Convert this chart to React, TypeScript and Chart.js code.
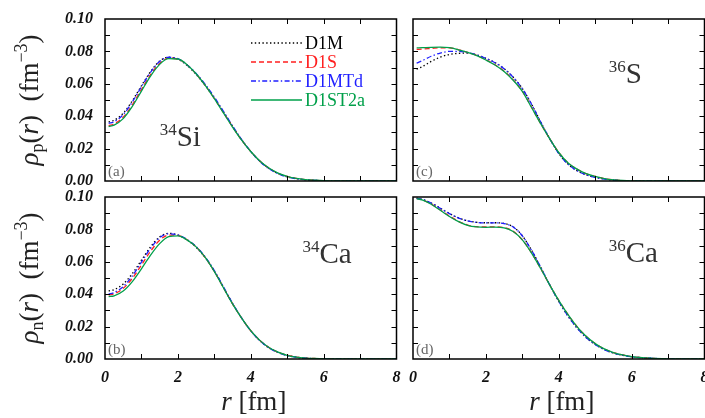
import { useEffect, useRef } from "react";
import { Chart, registerables } from "chart.js";

Chart.register(...registerables);

// Radial grid (fm) shared by every density curve
const R = [
  0.1, 0.25, 0.5, 0.75, 1, 1.25, 1.5, 1.75, 2, 2.25, 2.5, 2.75, 3, 3.25, 3.5,
  3.75, 4, 4.25, 4.5, 4.75, 5, 5.25, 5.5, 5.75, 6, 6.5, 7, 7.5, 8,
];

const SERIES_NAMES = ["D1M", "D1S", "D1MTd", "D1ST2a"];

const X_TICKS = [0, 2, 4, 6, 8];
const Y_TICKS = [0, 0.02, 0.04, 0.06, 0.08, 0.1];

// (a) 34Si proton density
const SI34_D1M = [0.0365, 0.0375, 0.0418, 0.0495, 0.0588, 0.0675, 0.074, 0.0764, 0.0752, 0.0714, 0.0658, 0.059, 0.0512, 0.0426, 0.0338, 0.0255, 0.0182, 0.0122, 0.0077, 0.0046, 0.0026, 0.0015, 0.0008, 0.0004, 0.0002, 0.00005, 0, 0, 0];
const SI34_D1S = [0.0342, 0.0352, 0.0394, 0.047, 0.0565, 0.0656, 0.0726, 0.0758, 0.0753, 0.0717, 0.0661, 0.0591, 0.051, 0.0422, 0.0335, 0.0253, 0.0182, 0.0123, 0.0079, 0.0048, 0.0028, 0.0016, 0.0009, 0.0005, 0.0002, 0.00005, 0, 0, 0];
const SI34_D1MTD = [0.0355, 0.0366, 0.041, 0.0488, 0.0582, 0.0671, 0.0738, 0.0764, 0.0755, 0.0718, 0.0664, 0.0597, 0.0518, 0.043, 0.034, 0.0256, 0.0182, 0.0121, 0.0076, 0.0045, 0.0025, 0.0014, 0.0008, 0.0004, 0.0002, 0.00005, 0, 0, 0];
const SI34_D1ST2A = [0.0336, 0.0345, 0.0385, 0.046, 0.0555, 0.0648, 0.072, 0.0755, 0.0753, 0.0718, 0.0662, 0.059, 0.0508, 0.042, 0.0333, 0.0252, 0.0182, 0.0124, 0.008, 0.0049, 0.0029, 0.0016, 0.0009, 0.0005, 0.0002, 0.00005, 0, 0, 0];

// (c) 36S proton density
const S36_D1M = [0.069, 0.0705, 0.0738, 0.0765, 0.0781, 0.0788, 0.0789, 0.0778, 0.0757, 0.0731, 0.0694, 0.0641, 0.0571, 0.0476, 0.0366, 0.0262, 0.017, 0.0105, 0.0064, 0.0038, 0.0022, 0.0012, 0.0006, 0.0002, 0.0001, 0, 0, 0, 0];
const S36_D1S = [0.0812, 0.0814, 0.0818, 0.0822, 0.0822, 0.081, 0.0794, 0.0775, 0.0749, 0.0718, 0.0678, 0.0624, 0.0555, 0.0457, 0.0356, 0.0262, 0.0176, 0.0113, 0.0073, 0.0045, 0.0028, 0.0015, 0.0007, 0.0003, 0.0001, 0, 0, 0, 0];
const S36_D1MTD = [0.0728, 0.0742, 0.077, 0.079, 0.08, 0.08, 0.0793, 0.0778, 0.0757, 0.073, 0.0693, 0.064, 0.057, 0.0475, 0.0365, 0.0262, 0.017, 0.0105, 0.0064, 0.0038, 0.0022, 0.0012, 0.0006, 0.0002, 0.0001, 0, 0, 0, 0];
const S36_D1ST2A = [0.0822, 0.0823, 0.0825, 0.0826, 0.0823, 0.081, 0.0794, 0.0774, 0.0747, 0.0716, 0.0676, 0.0622, 0.0553, 0.0455, 0.0355, 0.0262, 0.0176, 0.0113, 0.0073, 0.0045, 0.0028, 0.0015, 0.0007, 0.0003, 0.0001, 0, 0, 0, 0];

// (b) 34Ca neutron density
const CA34_D1M = [0.042, 0.0428, 0.0463, 0.0527, 0.061, 0.0692, 0.0754, 0.0776, 0.0765, 0.0736, 0.069, 0.0625, 0.0542, 0.0443, 0.0342, 0.0252, 0.0174, 0.0113, 0.0069, 0.004, 0.0022, 0.0011, 0.0005, 0.0002, 0.0001, 0, 0, 0, 0];
const CA34_D1S = [0.0395, 0.0402, 0.0436, 0.0498, 0.058, 0.0665, 0.0733, 0.0765, 0.0763, 0.0736, 0.0692, 0.0627, 0.0541, 0.0441, 0.034, 0.0252, 0.0175, 0.0115, 0.0071, 0.0042, 0.0023, 0.0012, 0.0006, 0.0003, 0.0001, 0, 0, 0, 0];
const CA34_D1MTD = [0.04, 0.041, 0.0447, 0.0513, 0.0598, 0.0683, 0.0748, 0.0773, 0.0766, 0.0738, 0.0694, 0.063, 0.0546, 0.0446, 0.0344, 0.0253, 0.0174, 0.0113, 0.0069, 0.004, 0.0022, 0.0011, 0.0005, 0.0002, 0.0001, 0, 0, 0, 0];
const CA34_D1ST2A = [0.0385, 0.039, 0.042, 0.0478, 0.0557, 0.0641, 0.0712, 0.0755, 0.076, 0.0735, 0.0692, 0.0627, 0.054, 0.044, 0.034, 0.0252, 0.0175, 0.0115, 0.0071, 0.0042, 0.0023, 0.0012, 0.0006, 0.0003, 0.0001, 0, 0, 0, 0];

// (d) 36Ca neutron density
const CA36_D1M = [0.0993, 0.0986, 0.0963, 0.0931, 0.0898, 0.0871, 0.0853, 0.0844, 0.0841, 0.0841, 0.0837, 0.0816, 0.0761, 0.0673, 0.0568, 0.0458, 0.0356, 0.0266, 0.0192, 0.0133, 0.009, 0.0058, 0.0037, 0.0023, 0.0014, 0.0005, 0.0001, 0, 0];
const CA36_D1S = [0.0991, 0.0983, 0.0957, 0.092, 0.0882, 0.085, 0.0827, 0.0817, 0.0815, 0.0816, 0.0811, 0.0788, 0.0736, 0.0656, 0.056, 0.0458, 0.0362, 0.0275, 0.02, 0.014, 0.0095, 0.0062, 0.004, 0.0025, 0.0015, 0.0005, 0.0001, 0, 0];
const CA36_D1MTD = [0.0992, 0.0985, 0.0962, 0.093, 0.0897, 0.087, 0.0852, 0.0843, 0.084, 0.084, 0.0836, 0.0815, 0.076, 0.0672, 0.0568, 0.0458, 0.0356, 0.0266, 0.0192, 0.0133, 0.009, 0.0058, 0.0037, 0.0023, 0.0014, 0.0005, 0.0001, 0, 0];
const CA36_D1ST2A = [0.099, 0.0982, 0.0955, 0.0918, 0.088, 0.0848, 0.0825, 0.0815, 0.0813, 0.0814, 0.081, 0.0787, 0.0735, 0.0655, 0.056, 0.0458, 0.0362, 0.0275, 0.02, 0.014, 0.0095, 0.0062, 0.004, 0.0025, 0.0015, 0.0005, 0.0001, 0, 0];

const SERIF = "'Liberation Serif', 'DejaVu Serif', serif";

const LINE_STYLES = [
  { color: "#000000", dash: [1.4, 2.4], order: 3 },
  { color: "#ff1f1f", dash: [5, 3], order: 2 },
  { color: "#1f1fff", dash: [5, 2.4, 1.4, 2.4], order: 1 },
  { color: "#00a04a", dash: [] as number[], order: 0 },
];

type Run = { t: string; size: number; italic?: boolean; dy?: number };

type Box = { x: number; y: number; w: number; h: number };
type Area = { left: number; top: number; right: number; bottom: number };

type Panel = {
  key: string;
  tag: string;
  canvas: Box;
  area: Area;
  series: number[][];
  nucleus: { mass: string; sym: string; r: number; rho: number };
  yLabels: boolean;
  xLabels: boolean;
  yTitle?: Run[];
  legend?: boolean;
};

const Y_TITLE_P: Run[] = [
  { t: "ρ", size: 27, italic: true },
  { t: "p", size: 18, dy: 5 },
  { t: "(", size: 27 },
  { t: "r", size: 27, italic: true },
  { t: ")  (fm", size: 27 },
  { t: "−3", size: 18, dy: -11 },
  { t: ")", size: 27 },
];

const Y_TITLE_N: Run[] = [
  { t: "ρ", size: 27, italic: true },
  { t: "n", size: 18, dy: 5 },
  { t: "(", size: 27 },
  { t: "r", size: 27, italic: true },
  { t: ")  (fm", size: 27 },
  { t: "−3", size: 18, dy: -11 },
  { t: ")", size: 27 },
];

const X_TITLE: Run[] = [
  { t: "r", size: 27, italic: true },
  { t: " [fm]", size: 27 },
];

const PANELS: Panel[] = [
  {
    key: "a",
    tag: "(a)",
    canvas: { x: 0, y: 0, w: 405, h: 190 },
    area: { left: 105, top: 19, right: 396.5, bottom: 181 },
    series: [SI34_D1M, SI34_D1S, SI34_D1MTD, SI34_D1ST2A],
    nucleus: { mass: "34", sym: "Si", r: 1.5, rho: 0.0216 },
    yLabels: true,
    xLabels: false,
    yTitle: Y_TITLE_P,
    legend: true,
  },
  {
    key: "c",
    tag: "(c)",
    canvas: { x: 400, y: 0, w: 305, h: 190 },
    area: { left: 413, top: 19, right: 704.5, bottom: 181 },
    series: [S36_D1M, S36_D1S, S36_D1MTD, S36_D1ST2A],
    nucleus: { mass: "36", sym: "S", r: 5.37, rho: 0.0605 },
    yLabels: false,
    xLabels: false,
  },
  {
    key: "b",
    tag: "(b)",
    canvas: { x: 0, y: 190, w: 405, h: 228 },
    area: { left: 105, top: 197, right: 396.5, bottom: 359 },
    series: [CA34_D1M, CA34_D1S, CA34_D1MTD, CA34_D1ST2A],
    nucleus: { mass: "34", sym: "Ca", r: 5.42, rho: 0.0593 },
    yLabels: true,
    xLabels: true,
    yTitle: Y_TITLE_N,
  },
  {
    key: "d",
    tag: "(d)",
    canvas: { x: 400, y: 190, w: 305, h: 228 },
    area: { left: 413, top: 197, right: 704.5, bottom: 359 },
    series: [CA36_D1M, CA36_D1S, CA36_D1MTD, CA36_D1ST2A],
    nucleus: { mass: "36", sym: "Ca", r: 5.37, rho: 0.0599 },
    yLabels: false,
    xLabels: true,
  },
];

function runFont(r: Run) {
  return `${r.italic ? "italic " : ""}${r.size}px ${SERIF}`;
}

function drawRuns(
  ctx: CanvasRenderingContext2D,
  runs: Run[],
  x: number,
  y: number,
  align: "left" | "center"
) {
  const widths = runs.map((r) => {
    ctx.font = runFont(r);
    return ctx.measureText(r.t).width;
  });
  const total = widths.reduce((s, w) => s + w, 0);
  let cx = align === "center" ? x - total / 2 : x;
  ctx.textAlign = "left";
  ctx.textBaseline = "alphabetic";
  runs.forEach((r, i) => {
    ctx.font = runFont(r);
    ctx.fillText(r.t, cx, y + (r.dy || 0));
    cx += widths[i];
  });
}

const TICK_LEN = 5;

function makeDecor(panel: Panel) {
  return {
    id: "panelDecor",
    afterDatasetsDraw(chart: any) {
      const { ctx, chartArea: a, scales } = chart;
      const xs = scales.x;
      const ys = scales.y;
      ctx.save();

      // inward ticks on all four sides
      ctx.strokeStyle = "#000";
      ctx.lineWidth = 1;
      ctx.beginPath();
      for (let v = 1; v < 8; v += 1) {
        const px = Math.round(xs.getPixelForValue(v)) + 0.5;
        ctx.moveTo(px, a.bottom);
        ctx.lineTo(px, a.bottom - TICK_LEN);
        ctx.moveTo(px, a.top);
        ctx.lineTo(px, a.top + TICK_LEN);
      }
      for (let k = 1; k < 10; k += 1) {
        const py = Math.round(ys.getPixelForValue(k * 0.01)) + 0.5;
        ctx.moveTo(a.left, py);
        ctx.lineTo(a.left + TICK_LEN, py);
        ctx.moveTo(a.right, py);
        ctx.lineTo(a.right - TICK_LEN, py);
      }
      ctx.stroke();

      // frame
      ctx.lineWidth = 1.5;
      ctx.strokeRect(a.left, a.top, a.right - a.left, a.bottom - a.top);

      // panel tag
      ctx.fillStyle = "#666";
      ctx.font = `15px ${SERIF}`;
      ctx.textAlign = "left";
      ctx.textBaseline = "alphabetic";
      ctx.fillText(panel.tag, a.left + 3, a.bottom - 5);

      // nucleus label
      ctx.fillStyle = "#333";
      drawRuns(
        ctx,
        [
          { t: panel.nucleus.mass, size: 17, dy: -11 },
          { t: panel.nucleus.sym, size: 29 },
        ],
        xs.getPixelForValue(panel.nucleus.r),
        ys.getPixelForValue(panel.nucleus.rho),
        "left"
      );

      // legend built from the datasets
      if (panel.legend) {
        chart.data.datasets.forEach((ds: any, i: number) => {
          const y = a.top + 24 + i * 19;
          const x0 = a.left + 146;
          ctx.strokeStyle = ds.borderColor;
          ctx.lineWidth = 1.3;
          ctx.setLineDash(ds.borderDash || []);
          ctx.beginPath();
          ctx.moveTo(x0, y);
          ctx.lineTo(x0 + 51, y);
          ctx.stroke();
          ctx.setLineDash([]);
          ctx.fillStyle = ds.borderColor;
          ctx.font = `18px ${SERIF}`;
          ctx.textAlign = "left";
          ctx.textBaseline = "middle";
          ctx.fillText(ds.label, x0 + 54, y + 1);
        });
      }

      // axis titles
      ctx.fillStyle = "#222";
      if (panel.yTitle) {
        ctx.save();
        ctx.translate(a.left - 67, (a.top + a.bottom) / 2);
        ctx.rotate(-Math.PI / 2);
        drawRuns(ctx, panel.yTitle, 0, 0, "center");
        ctx.restore();
      }
      if (panel.xLabels) {
        drawRuns(ctx, X_TITLE, (a.left + a.right) / 2 + 3, a.bottom + 51, "center");
      }
      ctx.restore();
    },
  };
}

function PanelChart({ panel }: { panel: Panel }) {
  const ref = useRef<HTMLCanvasElement | null>(null);

  useEffect(() => {
    const canvas = ref.current;
    if (!canvas) return;
    const c = panel.canvas;
    const a = panel.area;
    const padTop = a.top - c.y;
    const padRight = c.x + c.w - a.right;
    const yWidth = a.left - c.x;
    const xHeight = c.y + c.h - a.bottom;
    const tickFont = { family: SERIF, size: 16, style: "italic" as const, weight: "bold" as const };

    const chart = new Chart(canvas, {
      type: "line",
      data: {
        datasets: panel.series.map((vals, i) => ({
          label: SERIES_NAMES[i],
          data: R.map((r, k) => ({ x: r, y: vals[k] })),
          borderColor: LINE_STYLES[i].color,
          borderDash: LINE_STYLES[i].dash,
          borderWidth: 1.3,
          pointRadius: 0,
          fill: false,
          cubicInterpolationMode: "monotone" as const,
          order: LINE_STYLES[i].order,
        })),
      },
      options: {
        responsive: false,
        animation: false,
        events: [],
        layout: { padding: { left: 0, top: padTop, right: padRight, bottom: 0 } },
        plugins: { legend: { display: false }, tooltip: { enabled: false } },
        scales: {
          x: {
            type: "linear",
            min: 0,
            max: 8,
            grid: { display: false, drawTicks: false },
            border: { display: false },
            ticks: {
              display: panel.xLabels,
              font: tickFont,
              color: "#111",
              padding: 9,
              maxRotation: 0,
              autoSkip: false,
            },
            afterBuildTicks: (s: any) => {
              s.ticks = X_TICKS.map((v) => ({ value: v }));
            },
            afterFit: (s: any) => {
              s.height = xHeight;
              s.paddingLeft = 0;
              s.paddingRight = 0;
            },
          },
          y: {
            type: "linear",
            min: 0,
            max: 0.1,
            grid: { display: false, drawTicks: false },
            border: { display: false },
            ticks: {
              display: panel.yLabels,
              font: tickFont,
              color: "#111",
              padding: 12,
              callback: (v: any) => Number(v).toFixed(2),
            },
            afterBuildTicks: (s: any) => {
              s.ticks = Y_TICKS.map((v) => ({ value: v }));
            },
            afterFit: (s: any) => {
              s.width = yWidth;
              s.paddingTop = 0;
              s.paddingBottom = 0;
            },
          },
        },
      },
      plugins: [makeDecor(panel)],
    });
    return () => chart.destroy();
  }, [panel]);

  const c = panel.canvas;
  return (
    <canvas
      ref={ref}
      width={c.w}
      height={c.h}
      style={{ position: "absolute", left: c.x, top: c.y, width: c.w, height: c.h }}
    />
  );
}

export default function App() {
  return (
    <div
      style={{
        position: "absolute",
        left: 0,
        top: 0,
        width: 705,
        height: 418,
        background: "#fff",
        overflow: "hidden",
      }}
    >
      {PANELS.map((p) => (
        <PanelChart key={p.key} panel={p} />
      ))}
    </div>
  );
}
